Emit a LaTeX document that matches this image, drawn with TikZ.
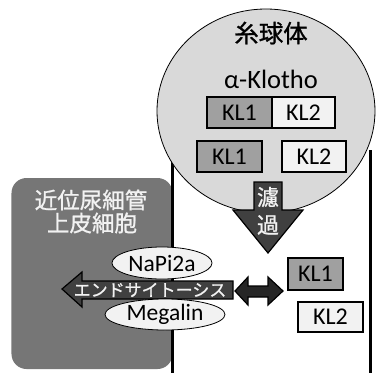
\documentclass[tikz,border=0pt]{standalone}
\usepackage{fontspec}
\setmainfont{Carlito}
\newfontfamily\jp[FakeBold=1]{Noto Sans CJK JP}
\definecolor{glom}{HTML}{D9D9D9}
\definecolor{kla}{HTML}{A0A0A0}
\definecolor{klb}{HTML}{F2F2F2}
\definecolor{cellg}{HTML}{767676}
\definecolor{arrd}{HTML}{404040}
\definecolor{arrdd}{HTML}{262626}
\definecolor{txtw}{HTML}{F2F2F2}
\tikzset{
  klbox/.style={draw=black, line width=1.3pt, minimum height=31pt, inner sep=0pt, font=\fontsize{24}{26}\selectfont},
  kla/.style={klbox, fill=kla},
  klb/.style={klbox, fill=klb},
  prot/.style={draw=black, line width=0.8pt, fill=klb, ellipse, inner sep=0pt, font=\fontsize{23.5}{25}\selectfont},
  bigarrow/.style={draw=black, line width=1.2pt, line join=miter},
  wall/.style={line width=3pt},
}
\usetikzlibrary{shapes.geometric}
\begin{document}
\begin{tikzpicture}[x=1pt,y=-1pt]
\useasboundingbox (0,0) rectangle (376,373);
% cell
\node[draw=none, fill=cellg, rounded corners=15pt, minimum width=161pt, minimum height=191pt, inner sep=0pt] (cell) at (92,273.5) {};
% tubule walls
\coordinate (wl1) at (172,150); \coordinate (wl2) at (172,373);
\coordinate (wr1) at (370,150); \coordinate (wr2) at (370,373);
\draw[wall] (wl1) -- (wl2);
\draw[wall] (wr1) -- (wr2);
% glomerulus
\node[draw=black, line width=0.8pt, fill=glom, ellipse, minimum width=218pt, minimum height=204pt, inner sep=0pt] (glom) at (266,111) {};
\node[font=\jp\fontsize{24.5}{26}\selectfont] (glomt) at (271,33) {糸球体};
\node[font=\fontsize{26.5}{28}\selectfont] (klotho) at (271,79) {α-Klotho};
\node[kla, minimum width=65pt] (ka1) at (239.5,112.5) {KL1};
\node[klb, minimum width=63pt] (ka2) at (303.5,112.5) {KL2};
\node[kla, minimum width=65pt] (kb1) at (229.5,156.5) {KL1};
\node[klb, minimum width=64pt] (kb2) at (314,156.5) {KL2};
% filtration arrow
\filldraw[bigarrow, fill=arrd] (254,182) -- (282,182) -- (282,210) -- (303,210) -- (268,253) -- (233,210) -- (254,210) -- cycle;
\node[font=\jp\fontsize{22}{24}\selectfont, text=txtw] (f1) at (268,197) {濾};
\node[font=\jp\fontsize{22}{24}\selectfont, text=txtw] (f2) at (268,225) {過};
% cell text
\node[font=\jp\fontsize{22.5}{24}\selectfont, text=txtw] (c1) at (91,200) {近位尿細管};
\node[font=\jp\fontsize{22.5}{24}\selectfont, text=txtw] (c2) at (92,223) {上皮細胞};
% endocytosis arrow
\filldraw[bigarrow, fill=arrd] (233,281) -- (82,281) -- (82,272) -- (62,289) -- (82,307) -- (82,299) -- (233,299) -- cycle;
\node[font=\jp\fontsize{17}{18}\selectfont, text=txtw, inner sep=0pt] (endo) at (150,290) {エンドサイトーシス};
% receptors
\node[prot, minimum width=100pt, minimum height=32pt] (napi) at (162,263) {NaPi2a};
\node[prot, minimum width=120pt, minimum height=31pt] (meg) at (165,314.5) {Megalin};
% double arrow
\filldraw[bigarrow, fill=arrdd] (235,291) -- (248,277) -- (248,286) -- (268,286) -- (268,277) -- (283,291) -- (268,305) -- (268,297) -- (248,297) -- (248,305) -- cycle;
% filtered KL
\node[kla, minimum width=55pt, minimum height=32pt] (kc1) at (315.5,274) {KL1};
\node[klb, minimum width=65pt, minimum height=30pt] (kc2) at (330.5,317) {KL2};
\end{tikzpicture}
\end{document}
